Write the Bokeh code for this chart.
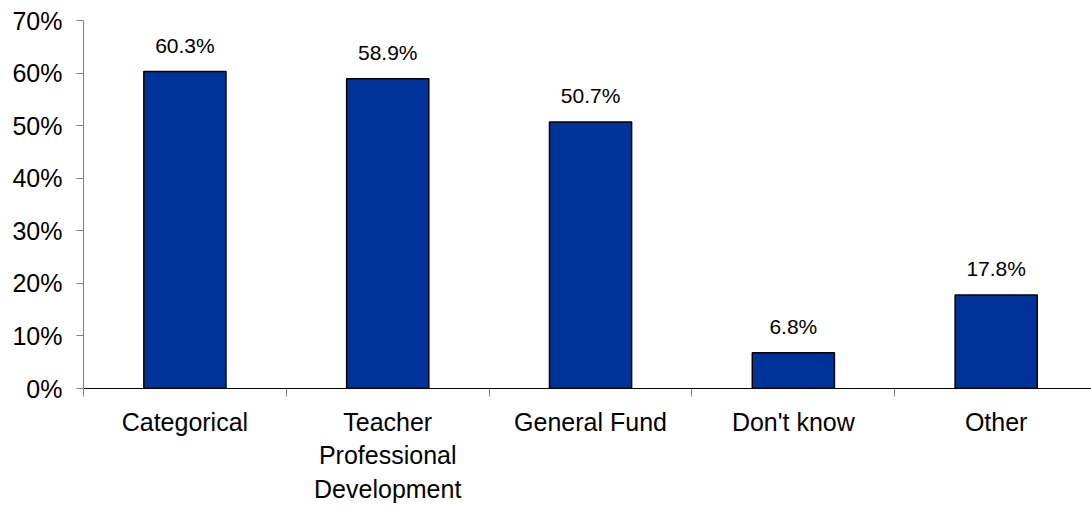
from bokeh.plotting import figure
from bokeh.models import Range1d, FixedTicker, NumeralTickFormatter, ColumnDataSource, LinearAxis
from bokeh.embed import file_html
from bokeh.resources import INLINE
from bokeh.core.properties import value

categories = ["Categorical", "Teacher\nProfessional\nDevelopment", "General Fund", "Don't know", "Other"]
values = [0.603, 0.589, 0.507, 0.068, 0.178]
value_labels = ["60.3%", "58.9%", "50.7%", "6.8%", "17.8%"]
y_ticks = [0, 0.1, 0.2, 0.3, 0.4, 0.5, 0.6, 0.7]

FONT = "Liberation Sans"
xs = [i + 0.5 for i in range(len(categories))]
src = ColumnDataSource(dict(x=xs, top=values, lab=value_labels))

p = figure(width=1091, height=508, output_backend="svg", toolbar_location=None,
           x_range=Range1d(0, 4.97), y_range=Range1d(0, 0.7),
           x_axis_location=None, y_axis_location=None)
p.min_border_left = 83
p.min_border_right = 0
p.min_border_top = 20
p.min_border_bottom = 120
p.outline_line_color = None
p.xgrid.visible = False
p.ygrid.visible = False
p.background_fill_color = "white"
p.border_fill_color = "white"

p.vbar(x="x", top="top", width=0.405, bottom=0, source=src,
       fill_color="#003399", line_color="black", line_width=1.5)
p.text(x="x", y="top", text="lab", source=src, text_align="center",
       text_baseline="alphabetic", y_offset=-26, text_font=value(FONT),
       text_font_size="21px", text_color="black")

xaxis = LinearAxis(ticker=FixedTicker(ticks=xs, minor_ticks=[0, 1, 2, 3, 4, 5]))
xaxis.major_label_overrides = {x: c for x, c in zip(xs, categories)}
xaxis.major_tick_out = 0
xaxis.major_tick_in = 0
xaxis.minor_tick_out = 8
xaxis.minor_tick_in = 0
xaxis.minor_tick_line_color = "#808080"
xaxis.axis_line_color = "black"
xaxis.major_label_standoff = 11
xaxis.major_label_text_font = FONT
xaxis.major_label_text_font_size = "25px"
xaxis.major_label_text_color = "black"
p.add_layout(xaxis, "below")

yaxis = LinearAxis(ticker=FixedTicker(ticks=y_ticks, minor_ticks=[]),
                   formatter=NumeralTickFormatter(format="0%"))
yaxis.major_tick_out = 7
yaxis.major_tick_in = 0
yaxis.major_tick_line_color = "#808080"
yaxis.axis_line_color = "#808080"
yaxis.major_label_standoff = 14
yaxis.major_label_text_font = FONT
yaxis.major_label_text_font_size = "25px"
yaxis.major_label_text_color = "black"
p.add_layout(yaxis, "left")

open("out.html", "w").write(file_html(p, INLINE))
